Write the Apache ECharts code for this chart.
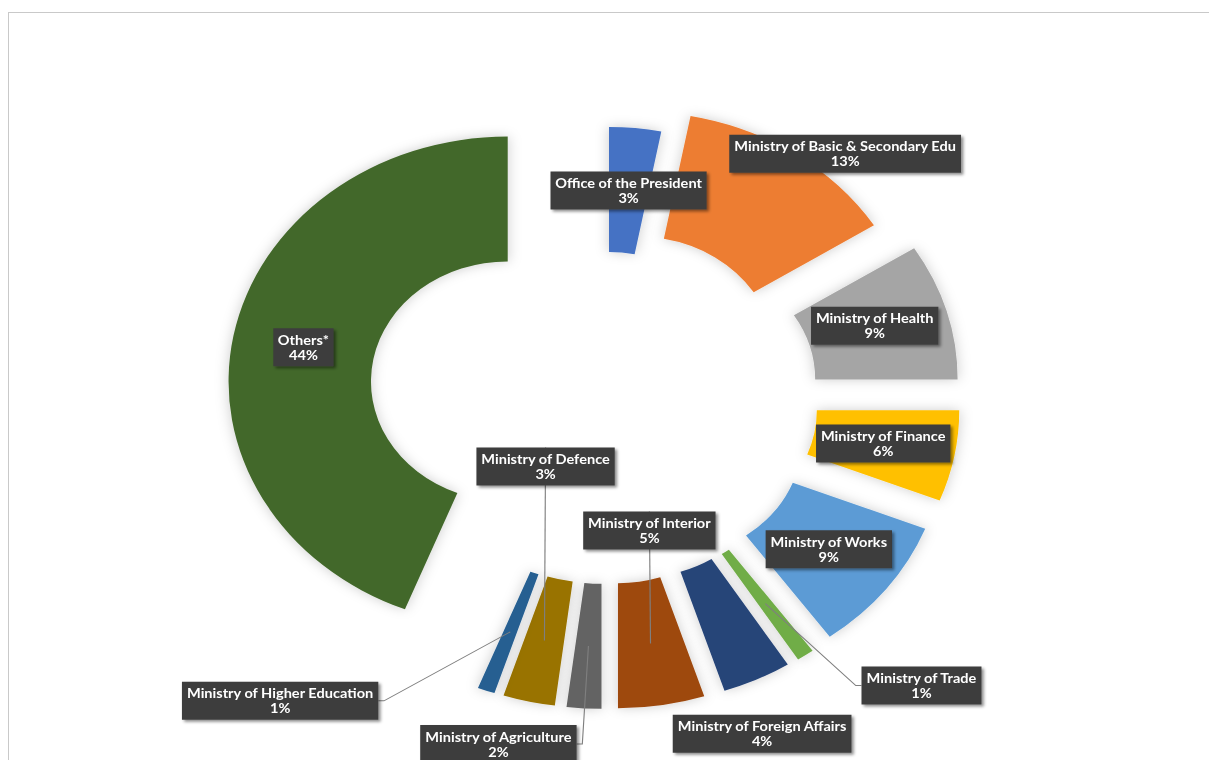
<!DOCTYPE html>
<html>
<head>
<meta charset="utf-8">
<script src="https://cdn.jsdelivr.net/npm/echarts@6/dist/echarts.min.js"></script>
<style>
html,body{margin:0;padding:0;background:#ffffff;overflow:hidden;width:1209px;height:760px;}
#frame{position:absolute;left:8px;top:12px;width:1400px;height:900px;border-top:1px solid #c9c9c9;border-left:1px solid #c9c9c9;}
#chart{position:absolute;left:0;top:0;width:1061px;height:760px;transform:scaleX(1.1395);transform-origin:0 0;}
</style>
</head>
<body>
<div id="frame"></div>
<div id="chart"></div>
<script>
// ---- data ----
const categories = [
  'Office of the President',
  'Ministry of Basic & Secondary Edu',
  'Ministry of Health',
  'Ministry of Finance',
  'Ministry of Works',
  'Ministry of Trade',
  'Ministry of Foreign Affairs',
  'Ministry of Interior',
  'Ministry of Agriculture',
  'Ministry of Defence',
  'Ministry of Higher Education',
  'Others*'
];
const shares = [3, 13, 9, 6, 9, 1, 4, 5, 2, 3, 1, 44];

// ---- styles / layout (not data) ----
const colors = ['#4472C4','#ED7D31','#A5A5A5','#FFC000','#5B9BD5','#70AD47','#264478','#9E480E','#636363','#997300','#255E91','#43682B'];
const explode = [26, 50, 66, 66, 66, 66, 66, 66, 66, 66, 66, 88];      // point explosion per slice
const labelShift = [[0,0],[79,-52],[-3,-3],[-1,-1],[-1,-1],[137,82],[31,111],[-1,-113],[-79,98],[1,-174],[-202,69],[0,0]]; // label drag
const leader = [false,false,false,false,false,true,false,true,true,true,true,false];

const C = [532, 398], R0 = 120, R1 = 245, RM = (R0 + R1) / 2;
const total = shares.reduce((a, b) => a + b, 0);
let acc = 0;
const midAngles = shares.map(v => { const a = (acc + v / 2) / total * 2 * Math.PI; acc += v; return a; });

const labelStyle = {
  color: '#ffffff',
  fontFamily: 'Lato',
  fontWeight: 'bold',
  fontSize: 12.8,
  lineHeight: 15,
  align: 'center',
  backgroundColor: '#3c3c3c',
  padding: [4, 4],
  shadowColor: 'rgba(0,0,0,0.45)',
  shadowBlur: 3,
  shadowOffsetX: 2,
  shadowOffsetY: 2,
  formatter: p => p.name + '\n' + Math.round(p.percent) + '%'
};

function pieSeries(i, labelLayer) {
  const a = midAngles[i], d = explode[i];
  const center = [C[0] + d * Math.sin(a), C[1] - d * Math.cos(a)];
  const mid = [C[0] + (d + RM) * Math.sin(a), C[1] - (d + RM) * Math.cos(a)];
  return {
    type: 'pie',
    z: labelLayer ? 5 : 2,
    radius: [R0, R1],
    center: center,
    startAngle: 90,
    clockwise: true,
    avoidLabelOverlap: false,
    silent: true,
    animation: false,
    emphasis: { disabled: true },
    data: categories.map((name, j) => ({
      name: name,
      value: shares[j],
      itemStyle: (!labelLayer && j === i)
        ? { color: colors[j], borderWidth: 0, shadowBlur: 12, shadowColor: 'rgba(0,0,0,0.2)' }
        : { color: 'rgba(0,0,0,0)', borderWidth: 0 },
      label: { show: labelLayer && j === i },
      labelLine: { show: labelLayer && j === i && leader[j] }
    })),
    label: Object.assign({}, labelStyle, { position: leader[i] ? 'outside' : 'inside' }),
    labelLine: { lineStyle: { color: '#7f7f7f', width: 1 } },
    labelLayout: labelLayer ? function (p) {
      if (p.dataIndex !== i) return {};
      const sx = labelShift[i][0], sy = labelShift[i][1];
      const tx = mid[0] + sx, ty = mid[1] + sy;
      const out = { x: tx, y: ty, align: 'center', verticalAlign: 'middle' };
      if (leader[i]) {
        const w = p.labelRect.width, h = p.labelRect.height;
        if (Math.abs(sx) > Math.abs(sy) * 0.5) {
          const side = sx > 0 ? 1 : -1;
          const ax = tx - side * w / 2;
          out.labelLinePoints = [[ax, ty], [ax - side * 5, ty], [mid[0], mid[1]]];
        } else {
          const ay = ty - (sy > 0 ? -1 : 1) * h / 2;
          out.labelLinePoints = [[tx, ay], [tx, ay], [mid[0], mid[1]]];
        }
      }
      return out;
    } : undefined
  };
}

const series = [];
for (let i = 0; i < categories.length; i++) series.push(pieSeries(i, false));
for (let i = 0; i < categories.length; i++) series.push(pieSeries(i, true));

const chart = echarts.init(document.getElementById('chart'), null, { renderer: 'svg' });
chart.setOption({ animation: false, series: series });
</script>
</body>
</html>
